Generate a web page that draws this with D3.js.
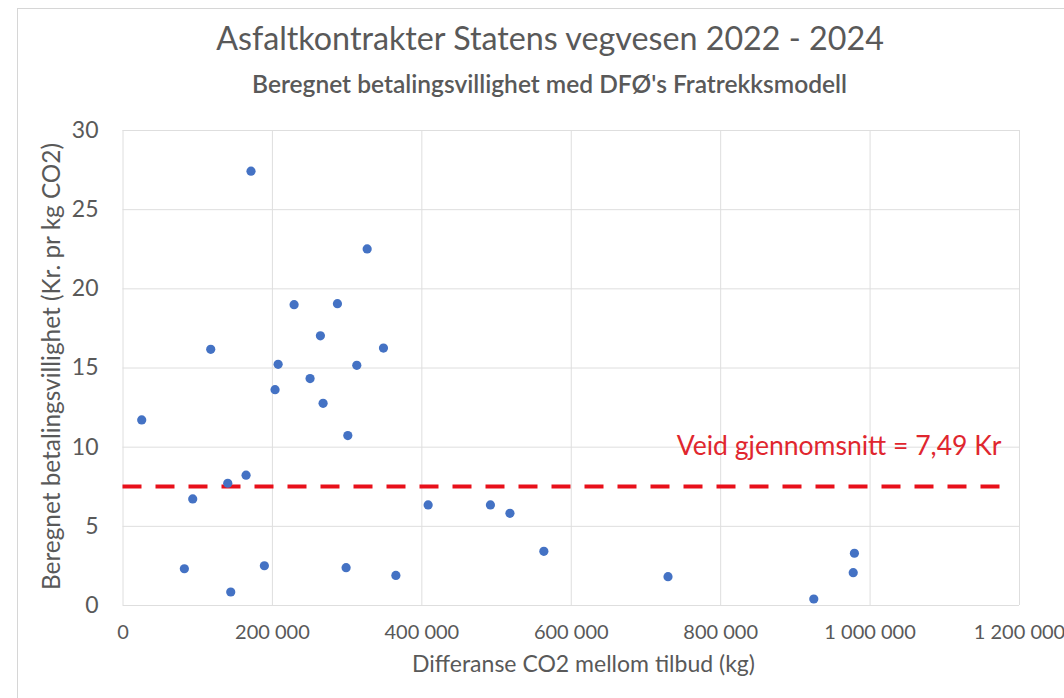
<!DOCTYPE html>
<html>
<head>
<meta charset="utf-8">
<script src="https://cdn.jsdelivr.net/npm/d3@7"></script>
<style>
  html, body { margin: 0; padding: 0; background: #ffffff; }
  svg { display: block; }
  text { font-family: Lato, "Open Sans", "Liberation Sans", sans-serif; }
</style>
</head>
<body>
<svg id="chart" width="1064" height="698"></svg>
<script>
// ---- Data ----
const titleText = "Asfaltkontrakter Statens vegvesen 2022 - 2024";
const subtitleText = "Beregnet betalingsvillighet med DFØ's Fratrekksmodell";
const xAxisTitle = "Differanse CO2 mellom tilbud (kg)";
const yAxisTitle = "Beregnet betalingsvillighet (Kr. pr kg CO2)";
const avgLabel = "Veid gjennomsnitt = 7,49 Kr";

const xTicks = [0, 200000, 400000, 600000, 800000, 1000000, 1200000];
const yTicks = [0, 5, 10, 15, 20, 25, 30];

// CO2 difference (kg) per contract
const co2Diff = [25700, 82800, 94000, 118100, 140900, 144900, 165400, 172000, 189900, 204200,
                 208300, 229700, 251100, 264900, 268500, 287700, 299300, 301600, 313600, 327500,
                 349300, 365900, 409100, 492500, 518600, 564000, 730200, 925300, 979700, 978100];
// Willingness to pay (Kr per kg CO2)
const willingness = [11.69, 2.29, 6.70, 16.15, 7.69, 0.82, 8.2, 27.4, 2.48, 13.6,
                     15.2, 18.97, 14.3, 17.0, 12.74, 19.03, 2.36, 10.7, 15.14, 22.49,
                     16.23, 1.87, 6.32, 6.32, 5.79, 3.39, 1.79, 0.38, 3.27, 2.04];

// Weighted average line
const avgValue = [7.49, 7.49];
const avgRange = [0, 1180000];

// ---- Drawing ----
const svg = d3.select("#chart");
const W = 1064, H = 698;
const plot = { left: 122.5, right: 1019, top: 130, bottom: 605 };

const grey = "#595959";
const gridColor = "#dedede";
const dotColor = "#4472c4";
const red = "#e8101a";

// outer chart frame
svg.append("rect").attr("x", 17.5).attr("y", 8.5).attr("width", W).attr("height", H)
  .attr("fill", "#ffffff").attr("stroke", "#d6d6d6").attr("stroke-width", 1);

const x = d3.scaleLinear().domain([0, 1200000]).range([plot.left, plot.right]);
const y = d3.scaleLinear().domain([0, 30]).range([plot.bottom, plot.top]);

const locale = d3.formatLocale({ decimal: ",", thousands: " ", grouping: [3], currency: ["", " kr"] });
const fmtX = locale.format(",d");

// gridlines
svg.append("g").attr("class", "ygrid")
  .attr("transform", `translate(${plot.left},0)`)
  .call(d3.axisLeft(y).tickValues(yTicks).tickSize(-(plot.right - plot.left)).tickFormat(""))
  .call(g => g.select(".domain").remove())
  .call(g => g.selectAll("line").attr("stroke", gridColor).attr("stroke-width", 1));

svg.append("g").attr("class", "xgrid")
  .attr("transform", `translate(0,${plot.bottom})`)
  .call(d3.axisBottom(x).tickValues(xTicks).tickSize(-(plot.bottom - plot.top)).tickFormat(""))
  .call(g => g.select(".domain").remove())
  .call(g => g.selectAll("line").attr("stroke", gridColor).attr("stroke-width", 1));

// tick labels via axes
const xAxis = svg.append("g")
  .attr("transform", `translate(0,${plot.bottom})`)
  .call(d3.axisBottom(x).tickValues(xTicks).tickFormat(fmtX).tickSize(0).tickPadding(20));
xAxis.select(".domain").remove();
xAxis.selectAll("text").attr("fill", grey).attr("font-size", 20)
  .style("font-family", "Lato, 'Open Sans', sans-serif");

const yAxis = svg.append("g")
  .attr("transform", `translate(${plot.left},0)`)
  .call(d3.axisLeft(y).tickValues(yTicks).tickSize(0).tickPadding(24));
yAxis.select(".domain").remove();
yAxis.selectAll("text").attr("fill", grey).attr("font-size", 23)
  .style("font-family", "Lato, 'Open Sans', sans-serif");

// average dashed line
const avgData = avgRange.map((v, i) => [v, avgValue[i]]);
svg.append("path")
  .datum(avgData)
  .attr("d", d3.line().x(d => x(d[0])).y(d => y(d[1])))
  .attr("fill", "none")
  .attr("stroke", red)
  .attr("stroke-width", 4)
  .attr("stroke-dasharray", "19,14");

// points
const pts = co2Diff.map((v, i) => ({ x: v, y: willingness[i] }));
svg.append("g").selectAll("circle").data(pts).join("circle")
  .attr("cx", d => x(d.x)).attr("cy", d => y(d.y)).attr("r", 4.6)
  .attr("fill", dotColor);

// fit helper: scale font-size so text reaches target width
function fit(sel, target) {
  const len = sel.node().getComputedTextLength();
  const fs = parseFloat(sel.attr("font-size"));
  if (len > 0) sel.attr("font-size", (fs * target / len).toFixed(2));
  return sel;
}

// titles
const t1 = svg.append("text").attr("x", 550).attr("y", 50).attr("text-anchor", "middle")
  .attr("fill", grey).attr("font-size", 30).text(titleText);
fit(t1, 668);

const t2 = svg.append("text").attr("x", 549.5).attr("y", 93).attr("text-anchor", "middle")
  .attr("fill", grey).attr("font-size", 20).attr("font-weight", 600).text(subtitleText);
fit(t2, 595);

const xt = svg.append("text").attr("x", 583.5).attr("y", 672).attr("text-anchor", "middle")
  .attr("fill", grey).attr("font-size", 22).text(xAxisTitle);
fit(xt, 343);

const yt = svg.append("text").attr("transform", `translate(60,366.5) rotate(-90)`)
  .attr("text-anchor", "middle").attr("fill", grey).attr("font-size", 22).text(yAxisTitle);
fit(yt, 447);

const al = svg.append("text").attr("x", 1001.5).attr("y", 455).attr("text-anchor", "end")
  .attr("fill", "#e0262e").attr("font-size", 26).text(avgLabel);
fit(al, 325);
</script>
</body>
</html>
